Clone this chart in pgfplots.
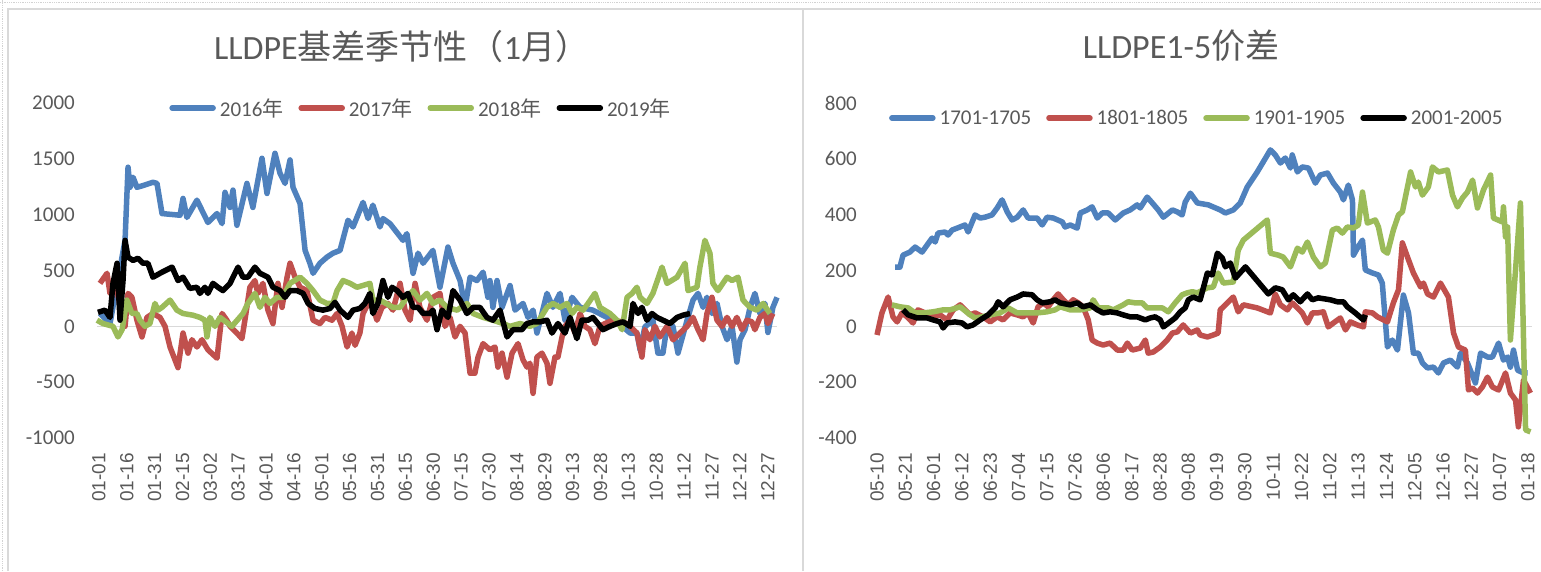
\documentclass[border=0pt]{standalone}
\usepackage{fontspec}
\setmainfont{Carlito}
\newfontfamily\cjk{Noto Sans CJK SC}
\newfontfamily\lab{Liberation Sans}
\usepackage{pgfplots}
\pgfplotsset{compat=1.18}
\definecolor{c16}{HTML}{4F81BD}
\definecolor{c17}{HTML}{C0504D}
\definecolor{c18}{HTML}{9BBB59}
\definecolor{txt}{HTML}{595959}
\definecolor{zero}{HTML}{D9D9D9}
\definecolor{frame}{HTML}{D9D9D9}
\pgfplotsset{
 mystyle/.style={
  scale only axis, anchor=south west, height=335pt,
  axis line style={draw=none}, tick style={draw=none}, major tick length=0pt,
  clip=false, enlargelimits=false,
  yticklabel style={font=\fontsize{21}{25}\selectfont, text=txt, anchor=east, inner sep=0pt},
  xticklabel style={font=\lab\fontsize{19}{22}\selectfont, text=txt, rotate=90, anchor=east, inner sep=0pt},
  xticklabel shift=15pt,
  title style={font=\fontsize{34}{40}\selectfont, text=txt, anchor=center},
  legend style={draw=none, fill=none, legend columns=4, font=\fontsize{21}{25}\selectfont, text=txt, anchor=center,
    /tikz/every even column/.append style={column sep=13pt},
    /tikz/every odd column/.append style={column sep=2pt},
    inner sep=0pt},
  legend image code/.code={\draw[#1, line cap=round] (0pt,0pt) -- (41pt,0pt);},
  every axis plot/.append style={line width=5.5pt, line join=round, mark=none},
 }}
\begin{document}
\begin{tikzpicture}[x=1pt,y=1pt]
\path[use as bounding box] (0,0) rectangle (1541,571);
\draw[gray!35, densely dotted, line width=0.8pt] (0,569) -- (1541,569);
\draw[gray!35, densely dotted, line width=0.8pt] (2,0) -- (2,571);
\draw[frame, line width=1.2pt] (8,0) -- (8,562) -- (1541,562);
\draw[frame, line width=1.2pt] (803,0) -- (803,562);

\begin{axis}[mystyle, at={(97pt,133pt)}, width=680pt,
  xmin=0, xmax=366, ymin=-1000, ymax=2000,
  ytick={-1000,-500,0,500,1000,1500,2000},
  yticklabels={-1000,-500,0,500,1000,1500,2000},
  yticklabel shift=22pt,
  xtick={1,16,31,46,61,76,91,106,121,136,151,166,181,196,211,226,241,256,271,286,301,316,331,346,361},
  xticklabels={01-01,01-16,01-31,02-15,03-02,03-17,04-01,04-16,05-01,05-16,05-31,06-15,06-30,07-15,07-30,08-14,08-29,09-13,09-28,10-13,10-28,11-12,11-27,12-12,12-27},
  title={LLDPE{\cjk 基差季节性\kern2pt（}1{\cjk 月）}},
  title style={at={(0.448,1.152)}},
  legend style={at={(0.4765,0.985)}},
]
\draw[zero, line width=1.5pt] (axis cs:0,0) -- (axis cs:366,0);
\addplot[c16] coordinates {(1.6,115) (7,25) (15.1,770) (16.7,1425) (17.8,1245) (19.4,1335) (21.5,1245) (24.7,1260) (30.1,1290) (32.3,1280) (35,1010) (44.7,995) (46.3,1145) (48.4,975) (53.8,1130) (59.7,930) (64.6,1010) (67.3,920) (68.9,1200) (71.6,1065) (73.2,1220) (75.3,905) (80.7,1280) (83.9,1065) (88.8,1505) (91.5,1190) (95.8,1550) (98.5,1370) (101.2,1280) (103.9,1490) (105.5,1245) (109.3,1100) (112,680) (114.6,565) (116.3,475) (120,565) (123.8,620) (127,655) (130.8,680) (135.1,950) (137.8,890) (143.2,1110) (145.9,965) (148.5,1085) (152.3,890) (153.9,965) (157.7,920) (164.7,770) (166.8,830) (170.1,475) (172.8,655) (175.5,565) (180.8,680) (184.6,350) (188.9,710) (191.6,565) (195.4,410) (198.1,170) (200.8,440) (204.5,410) (207.8,485) (210.4,260) (211.5,410) (213.1,170) (215.3,410) (218,170) (222.3,365) (225,145) (229.3,205) (232,80) (234.7,145) (236.8,-60) (242.2,295) (245.4,170) (249.2,295) (251.9,55) (255.7,260) (260,170) (266.9,145) (274.5,80) (277.7,55) (283.1,-5) (286.9,-60) (290.6,-60) (292.3,-210) (294.9,-5) (299.2,55) (301.9,-240) (304.6,-240) (306.8,0) (310,0) (312.7,-240) (317.6,55) (320.8,235) (323.5,295) (326.2,170) (328.3,260) (331,115) (333.7,205) (336.4,0) (339.1,-120) (341.8,0) (344.4,-320) (346.1,-120) (348.8,-30) (351.5,170) (354.1,295) (356.8,115) (359.5,205) (361.1,-55) (363.8,170) (366,260)};
\addlegendentry{2016{\cjk 年}}
\addplot[c17] coordinates {(1.6,385) (5.4,475) (7,295) (9.7,385) (13.5,115) (15.1,0) (16.7,295) (18.8,260) (21.5,55) (24.2,-95) (26.9,80) (30.1,115) (33.9,80) (36.6,0) (39.3,-185) (43.6,-370) (46.3,-60) (49,-240) (51.1,-120) (53.8,-185) (56.5,-120) (59.7,-210) (64.6,-285) (67.3,115) (69.9,55) (71.6,0) (75.3,-60) (78,-110) (79.6,55) (82.3,350) (85,410) (86.6,295) (89.3,385) (92,145) (94.7,25) (97.4,385) (99.6,170) (102.3,440) (103.9,565) (106.6,440) (109.3,350) (113,320) (116.3,55) (120,25) (122.7,80) (126.5,55) (129.2,115) (131.9,0) (134.6,-185) (137.2,-60) (138.9,-170) (141.5,-60) (143.2,115) (145.9,205) (148.5,170) (150.7,55) (153.4,170) (156.6,205) (159.3,145) (163.1,385) (165.8,145) (168.5,55) (171.2,385) (173.8,170) (177.6,55) (180.8,260) (184.6,295) (187.3,0) (190,80) (192.7,-95) (195.4,0) (198.1,-60) (200.8,-420) (203.4,-420) (205.1,-275) (207.8,-155) (211.5,-210) (214.2,-185) (215.8,-365) (218,-240) (220.7,-455) (223.4,-240) (226.6,-155) (229.3,-300) (231.4,-365) (233,-330) (234.7,-600) (236.8,-275) (239.5,-240) (242.2,-330) (243.8,-510) (246.5,-275) (248.1,-275) (250.3,-95) (251.9,0) (254.6,55) (257.3,-60) (260,115) (262.6,0) (265.3,-30) (268,-155) (270.7,0) (273.4,25) (277.7,55) (282.6,40) (285.3,25) (286.9,0) (290.6,-60) (293.3,-275) (294.9,-30) (297.6,-120) (300.3,0) (303,-95) (306.8,0) (310,-120) (313.8,-60) (317.6,0) (320.8,80) (323.5,-30) (326.2,-120) (328.3,115) (331,260) (333.7,55) (336.4,0) (339.1,80) (341.8,0) (344.4,80) (347.1,-30) (349.8,55) (352.5,40) (354.1,-30) (356.8,80) (359.5,115) (361.1,25) (363.8,115)};
\addlegendentry{2017{\cjk 年}}
\addplot[c18] coordinates {(0,55) (3.2,25) (8.6,0) (11.3,-95) (13.5,-30) (16.1,235) (18.8,115) (21.5,115) (23.1,55) (25.8,0) (28.5,25) (31.2,205) (32.8,145) (35,170) (39.3,235) (43,145) (46.3,115) (51.6,100) (55.4,80) (58.1,55) (59.2,-95) (60.8,80) (63.5,0) (66.2,80) (72.6,0) (78.6,115) (81.2,205) (85,295) (87.7,170) (90.4,260) (93.1,205) (96.9,260) (100.1,260) (103.9,385) (109.3,440) (113,385) (116.3,320) (120,235) (123.8,205) (127,205) (129.2,320) (132.4,410) (136.2,385) (139.9,350) (146.9,385) (148.5,235) (152.3,235) (159.3,170) (163.1,170) (166.8,260) (170.1,320) (173.8,235) (177.6,295) (180.8,205) (184.6,235) (188.4,170) (193.8,145) (199.1,205) (202.4,115) (207.8,80) (213.1,55) (218.5,25) (222.3,0) (227.7,25) (233,0) (236.8,25) (242.2,170) (245.4,205) (249.2,170) (253,205) (255.7,115) (258.3,170) (261.6,145) (264.3,205) (268,295) (270.7,170) (276.1,115) (279.9,55) (282.6,-30) (285.3,260) (288,295) (290.6,350) (292.3,260) (296,205) (299.2,295) (304.1,530) (306.8,385) (312.2,440) (316.5,565) (318.1,320) (322.9,350) (324.5,530) (327.2,770) (329.9,655) (331.5,385) (334.2,320) (339.1,440) (341.8,410) (345,440) (347.7,235) (351.5,170) (355.2,145) (358.5,205) (362.2,115)};
\addlegendentry{2018{\cjk 年}}
\addplot[black] coordinates {(0.5,125) (4.3,145) (7,80) (8.6,385) (10.8,565) (12.4,55) (14,410) (15.1,770) (16.7,620) (19.4,590) (22.1,610) (24.7,565) (27.4,565) (30.1,440) (35,485) (40.4,530) (43.6,410) (46.3,440) (50,340) (53.8,350) (55.4,295) (58.1,350) (59.7,295) (62.4,385) (65.1,350) (67.8,320) (71.6,385) (75.9,530) (78.6,440) (81.2,440) (85,530) (87.7,475) (92,440) (94.7,350) (98.5,320) (101.2,260) (103.9,320) (107.6,320) (110.9,295) (113.6,205) (117.3,160) (121.6,145) (125.4,160) (128.1,215) (130.8,145) (135.1,80) (137.8,145) (141.5,160) (144.2,205) (146.9,295) (148.5,115) (151.2,205) (153.9,410) (156.6,260) (158.8,350) (161.5,320) (164.7,260) (167.4,295) (170.1,170) (172.8,170) (175.5,115) (179.2,115) (180.8,145) (183,-30) (185.7,145) (188.9,80) (191.6,320) (195.4,235) (199.1,115) (202.4,170) (206.1,170) (209.9,80) (213.1,55) (216.9,145) (220.7,-95) (223.9,-30) (228.7,-30) (231.4,25) (234.7,40) (238.4,40) (242.2,55) (244.9,-60) (248.1,25) (251.9,-60) (254.6,80) (258.3,-110) (261,55) (264.3,55) (266.9,80) (269.6,25) (272.3,-30) (276.1,0) (279.9,25) (283.1,40) (286.9,0) (288.5,205) (291.2,115) (293.3,170) (296,55) (298.7,115) (301.4,80) (304.6,55) (308.4,25) (312.2,80) (315.4,100) (319.2,115)};
\addlegendentry{2019{\cjk 年}}
\end{axis}

\begin{axis}[mystyle, at={(876pt,133pt)}, width=656pt,
  xmin=129.6, xmax=384.6, ymin=-400, ymax=800,
  ytick={-400,-200,0,200,400,600,800},
  yticklabels={-400,-200,0,200,400,600,800},
  yticklabel shift=19pt,
  xtick={130,141,152,163,174,185,196,207,218,229,240,251,262,273,284,295,306,317,328,339,350,361,372,383},
  xticklabels={05-10,05-21,06-01,06-12,06-23,07-04,07-15,07-26,08-06,08-17,08-28,09-08,09-19,09-30,10-11,10-22,11-02,11-13,11-24,12-05,12-16,12-27,01-07,01-18},
  title={LLDPE1-5{\cjk 价差}},
  title style={at={(0.465,1.152)}},
  legend style={at={(0.489,0.955)}},
]
\draw[zero, line width=1.5pt] (axis cs:129.6,0) -- (axis cs:384.6,0);
\addplot[c16] coordinates {(137,212) (138.9,212) (140.1,255) (142.8,266) (144.8,284) (147.5,266) (151.4,316) (152.6,302) (153.7,334) (156.5,338) (157.6,327) (159.2,345) (162.3,356) (164.2,363) (165.4,338) (168.1,399) (170.1,388) (172,391) (174.7,399) (176.7,424) (178.6,453) (180.6,410) (182.5,381) (184.5,391) (186.8,417) (188.7,388) (192.2,388) (194.2,363) (196.1,391) (198.5,388) (202,374) (203.1,356) (205.1,363) (207.8,352) (209,406) (211.7,417) (213.6,428) (215.6,388) (217.5,406) (219.9,406) (222.6,381) (225.7,406) (228.4,417) (231.1,435) (232.3,424) (235,463) (237,442) (239.3,417) (241.3,391) (244.8,417) (246.7,410) (248.6,399) (249.8,445) (251.8,477) (254.5,442) (258.8,435) (263.4,417) (265.4,406) (268.5,417) (271.2,442) (273.9,499) (277.8,553) (282.9,632) (284.8,614) (286.8,585) (288.7,603) (290.7,567) (291.4,614) (293.4,553) (295.3,571) (297.7,567) (300.4,513) (302.3,542) (305.1,549) (307.4,513) (310.1,481) (311.3,453) (313.2,506) (314.8,453) (315.2,255) (316.7,280) (318.7,309) (319.8,202) (322.6,191) (324.9,184) (326.4,155) (328.4,-74) (330.3,-49) (332.3,-85) (334.6,112) (336.6,48) (338.5,-96) (340.4,-96) (342,-131) (344,-149) (346.3,-146) (348.2,-167) (350.2,-131) (352.9,-121) (355.6,-146) (356.8,-96) (359.5,-131) (362.6,-203) (364.6,-96) (367.3,-110) (369.2,-110) (371.6,-60) (373.5,-121) (375.1,-110) (376.2,-146) (377.4,-85) (379,-157) (381.3,-167) (382.9,-167)};
\addlegendentry{1701-1705}
\addplot[c17] coordinates {(130,-31) (131.9,48) (134.3,105) (136.2,34) (137.8,16) (139.7,48) (141.7,34) (144,12) (145.9,59) (148.7,48) (151.4,34) (154.5,41) (157.2,23) (159.6,59) (162.3,77) (164.2,59) (166.2,41) (168.1,48) (171.2,34) (174,16) (176.7,34) (179,23) (181.7,48) (184.5,41) (186.8,34) (188.7,48) (190.7,12) (192.6,70) (194.6,84) (196.5,70) (198.5,95) (200.4,116) (202.4,95) (204.3,77) (206.2,95) (208.2,84) (210.1,70) (212.1,23) (213.6,-49) (215.6,-60) (217.9,-67) (220.6,-60) (223.4,-85) (225.7,-85) (227.3,-60) (229.2,-85) (232.3,-78) (234.3,-49) (235.4,-96) (237.4,-92) (240.1,-74) (242.8,-49) (244.8,-24) (246.7,-20) (249,5) (251.8,-24) (254.5,-13) (255.6,-31) (258.4,-38) (260.7,-31) (262.6,-24) (263.4,59) (266.2,84) (268.5,105) (270.4,52) (272.4,77) (277.8,66) (282.9,48) (284.8,116) (286.8,77) (289.5,59) (291.4,84) (293.4,66) (295.3,48) (297.3,12) (299.2,48) (301.2,48) (303.5,52) (305.4,-2) (307.4,12) (310.1,30) (312.1,-13) (314,16) (316.7,5) (319.1,-2) (319.8,52) (322.6,48) (324.5,34) (328.4,16) (330.7,84) (332.7,131) (334.2,299) (336.2,248) (338.5,191) (341.3,141) (342.4,155) (344,116) (346.3,105) (349,155) (352.1,105) (354.1,-24) (356,-74) (358.7,-85) (359.9,-228) (361.5,-221) (363.4,-239) (365.3,-217) (367.3,-182) (369.2,-217) (371.6,-228) (374.3,-167) (376.2,-239) (378.2,-264) (379.3,-360) (381.3,-192) (384,-239)};
\addlegendentry{1801-1805}
\addplot[c18] coordinates {(135.8,77) (138.9,70) (142.1,66) (144.8,48) (147.9,48) (151.8,52) (155.7,59) (158.4,59) (162.3,70) (166.2,41) (168.1,30) (170.8,34) (174,41) (177.8,48) (181,66) (184.5,48) (188.4,48) (192.2,48) (196.1,52) (199.2,59) (201.2,70) (205.1,59) (209,59) (212.9,66) (214,95) (216,66) (219.9,66) (221.8,59) (225.7,77) (227.6,88) (230.4,84) (233.1,84) (235,66) (237.4,66) (240.9,66) (243.2,52) (245.9,84) (248.6,113) (250.6,120) (252.5,124) (254.5,120) (258.4,138) (260.7,141) (262.6,191) (264.6,155) (268.5,159) (270.4,273) (272.4,309) (281.7,381) (282.9,262) (286,255) (287.9,248) (290.7,213) (293.4,280) (295.3,266) (297.3,302) (299.6,248) (302.3,213) (304.3,227) (307,345) (308.9,352) (310.9,334) (312.8,356) (315.2,352) (317.1,363) (318.7,481) (320.6,370) (323.7,381) (324.9,356) (326.8,273) (328.4,262) (330.7,345) (332.7,399) (334.2,410) (337.4,553) (339.3,499) (340.4,517) (342,470) (344.3,499) (345.9,571) (348.2,553) (351.7,560) (353.7,470) (355.6,428) (357.6,460) (359.5,481) (361.5,524) (363.4,424) (365.7,488) (368.5,542) (369.6,388) (373.1,374) (373.5,428) (374.3,320) (375.1,356) (376.2,-49) (380.1,442) (382.1,-371) (384,-378)};
\addlegendentry{1901-1905}
\addplot[black] coordinates {(140.1,59) (142.1,41) (145.6,30) (149.5,30) (151.8,23) (154.5,16) (155.7,-6) (157.2,12) (160.3,16) (163.1,12) (165,-2) (167.3,5) (170.1,23) (173.2,41) (175.9,66) (177.1,88) (179,70) (181.7,95) (184.5,105) (186.8,116) (190.3,113) (192.2,95) (194.2,84) (197.3,88) (199.2,95) (201.2,84) (205.1,77) (207.8,84) (210.1,70) (212.9,77) (215.6,59) (217.9,48) (220.6,52) (223.4,48) (225.7,41) (228.4,34) (231.1,34) (234.3,23) (236.2,30) (238.1,34) (240.1,23) (241.3,-2) (243.9,16) (245.9,30) (247.9,52) (249.8,66) (251,95) (252.9,105) (255.6,95) (258.4,191) (260.3,184) (262.3,262) (264.2,245) (265.4,213) (267.3,227) (269.3,173) (273.2,213) (282.1,116) (284.8,138) (287.5,131) (289.9,95) (291.8,113) (294.5,88) (297.3,116) (299.2,95) (301.5,102) (306.2,95) (308.9,88) (311.3,88) (312.8,70) (315.9,48) (319.1,23) (319.8,41)};
\addlegendentry{2001-2005}
\end{axis}
\end{tikzpicture}
\end{document}
